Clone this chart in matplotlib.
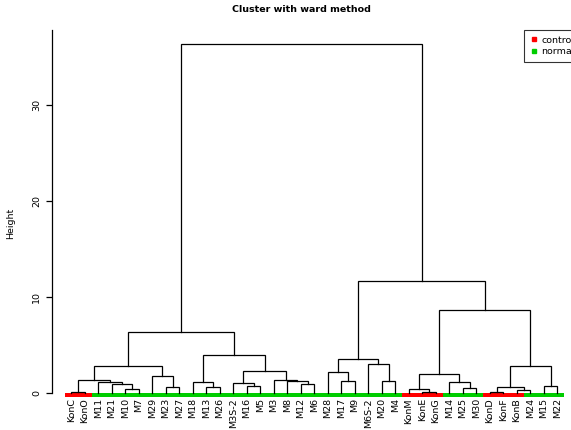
import matplotlib
matplotlib.use("Agg")
import matplotlib.pyplot as plt
from matplotlib.lines import Line2D

# leaf order as drawn, left to right
leaves = ["KonC", "KonO", "M11", "M21", "M10", "M7", "M29", "M23", "M27",
          "M18", "M13", "M26", "M3S-2", "M16", "M5", "M3", "M8", "M12", "M6",
          "M28", "M17", "M9", "M6S-2", "M20", "M4", "KonM", "KonE", "KonG",
          "M14", "M25", "M30", "KonD", "KonF", "KonB", "M24", "M15", "M22"]
groups = ["control" if name.startswith("Kon") else "normal" for name in leaves]

# merge steps: (left, right, height); leaf names or index of earlier merge
merges = [
    ("KonC", "KonO", 0.15),    # 0
    ("M10", "M7", 0.40),       # 1
    ("M21", 1, 0.90),          # 2
    ("M11", 2, 1.10),          # 3
    (0, 3, 1.35),              # 4
    ("M23", "M27", 0.65),      # 5
    ("M29", 5, 1.75),          # 6
    (4, 6, 2.80),              # 7
    ("M13", "M26", 0.60),      # 8
    ("M18", 8, 1.10),          # 9
    ("M16", "M5", 0.77),       # 10
    ("M3S-2", 10, 1.08),       # 11
    ("M12", "M6", 0.90),       # 12
    ("M8", 12, 1.20),          # 13
    ("M3", 13, 1.30),          # 14
    (11, 14, 2.33),            # 15
    (9, 15, 3.96),             # 16
    (7, 16, 6.30),             # 17
    ("M17", "M9", 1.28),       # 18
    ("M28", 18, 2.15),         # 19
    ("M20", "M4", 1.28),       # 20
    ("M6S-2", 20, 2.98),       # 21
    (19, 21, 3.54),            # 22
    ("KonE", "KonG", 0.10),    # 23
    ("KonM", 23, 0.40),        # 24
    ("M25", "M30", 0.55),      # 25
    ("M14", 25, 1.18),         # 26
    (24, 26, 1.93),            # 27
    ("KonD", "KonF", 0.08),    # 28
    ("KonB", "M24", 0.31),     # 29
    (28, 29, 0.66),            # 30
    ("M15", "M22", 0.77),      # 31
    (30, 31, 2.85),            # 32
    (27, 32, 8.60),            # 33
    (22, 33, 11.67),           # 34
    (17, 34, 36.30),           # 35
]

group_colors = {"control": "#FF0000", "normal": "#00CD00"}

plt.rcParams["font.family"] = "DejaVu Sans"
fig = plt.figure(figsize=(5.71, 4.30), dpi=100)
ax = fig.add_axes([52 / 571, 14 / 430, 519 / 571, 386 / 430])

xpos = {name: i + 1 for i, name in enumerate(leaves)}
node_x = []


def coord(ref):
    # returns (x, height) of a leaf or an earlier merge
    if isinstance(ref, str):
        return xpos[ref], 0.0
    return node_x[ref], merges[ref][2]


for left, right, h in merges:
    xl, hl = coord(left)
    xr, hr = coord(right)
    ax.plot([xl, xl, xr, xr], [hl, h, h, hr], color="black", lw=0.9,
            solid_joinstyle="miter", clip_on=False)
    node_x.append((xl + xr) / 2)

# coloured bar under the leaves
for name, grp in zip(leaves, groups):
    x = xpos[name]
    ax.add_patch(plt.Rectangle((x - 0.5, -0.4), 1.0, 0.4,
                               color=group_colors[grp], lw=0, clip_on=False))
    ax.text(x, -0.55, name, rotation=90, ha="center", va="top", fontsize=6.8)

ax.set_xlim(-0.43, 38.01)
ax.set_ylim(-2.4, 37.8)
for side in ("top", "right", "bottom"):
    ax.spines[side].set_visible(False)
ax.spines["left"].set_bounds(0, 37.8)
ax.spines["left"].set_linewidth(0.9)
ax.set_xticks([])
ax.set_yticks([0, 10, 20, 30])
ax.tick_params(axis="y", length=4.3, width=0.9, pad=3.5, labelsize=6.8)
for lbl in ax.get_yticklabels():
    lbl.set_rotation(90)
    lbl.set_va("center")
ax.set_ylabel("Height", fontsize=6.8)
ax.yaxis.set_label_coords(-37 / 519, 0.5)

fig.text(301 / 571, 1 - 10 / 430, "Cluster with ward method", ha="center",
         va="center", fontsize=6.8, fontweight="bold")

handles = [Line2D([], [], marker="s", ls="none", color=group_colors[g],
                  markersize=3.2, label=g) for g in ("control", "normal")]
leg = fig.legend(handles=handles, loc="upper left",
                 bbox_to_anchor=(524 / 571, 1 - 30 / 430), fontsize=6.8,
                 frameon=True, fancybox=False, edgecolor="black",
                 borderpad=0.6, handletextpad=0.2, handlelength=1.0,
                 labelspacing=0.25, borderaxespad=0)
leg.get_frame().set_linewidth(0.8)

fig.savefig("out.png", dpi=100)
